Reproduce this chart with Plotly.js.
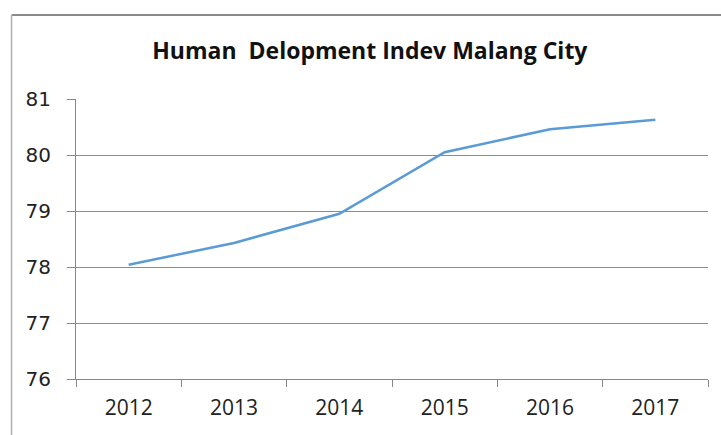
<!DOCTYPE html>
<html>
<head>
<meta charset="utf-8">
<script src="https://cdn.plot.ly/plotly-3.0.1.min.js"></script>
<style>html,body{margin:0;padding:0;background:#fff;}#chart{width:721px;height:435px;}</style>
</head>
<body>
<div id="chart"></div>
<script>
const years = ["2012", "2013", "2014", "2015", "2016", "2017"];
const hdiValues = [78.04, 78.43, 78.95, 80.05, 80.46, 80.63];
const yTicks = [76, 77, 78, 79, 80, 81];

const trace = {
  x: years,
  y: hdiValues,
  type: "scatter",
  mode: "lines",
  line: {color: "#5B9BD5", width: 2.5},
  hoverinfo: "x+y"
};

const layout = {
  width: 721,
  height: 435,
  margin: {l: 76, r: 13, t: 99, b: 56},
  paper_bgcolor: "#ffffff",
  plot_bgcolor: "#ffffff",
  showlegend: false,
  title: {
    text: "<b>Human  Delopment Indev Malang City</b>",
    font: {family: "Open Sans, sans-serif", size: 23, color: "#111111"},
    x: 0.513, xanchor: "center",
    y: 0.882, yanchor: "middle"
  },
  xaxis: {
    type: "category",
    range: [-0.5, 5.5],
    tickson: "boundaries",
    ticks: "outside",
    ticklen: 7,
    tickcolor: "#888888",
    tickwidth: 1,
    ticklabelstandoff: 10,
    showline: true,
    linecolor: "#888888",
    linewidth: 1,
    showgrid: false,
    zeroline: false,
    tickfont: {family: "Open Sans, sans-serif", size: 21, color: "#222222"},
    fixedrange: true
  },
  yaxis: {
    range: [76, 81],
    tickvals: yTicks,
    ticks: "outside",
    ticklen: 8,
    tickcolor: "#888888",
    tickwidth: 1,
    ticklabelstandoff: 12,
    showline: true,
    linecolor: "#888888",
    linewidth: 1,
    showgrid: true,
    gridcolor: "#8c8c8c",
    gridwidth: 1,
    zeroline: false,
    tickfont: {family: "DejaVu Sans, Verdana, sans-serif", size: 20, color: "#222222"},
    fixedrange: true
  },
  shapes: [
    {type: "line", xref: "paper", yref: "paper", x0: -0.102, x1: 1.03, y0: 1.3, y1: 1.3, line: {color: "#8a8a8a", width: 2}},
    {type: "line", xref: "paper", yref: "paper", x0: -0.102, x1: -0.102, y0: 1.3, y1: -0.25, line: {color: "#b0b0b0", width: 1.5}}
  ]
};

Plotly.newPlot("chart", [trace], layout, {displayModeBar: false, staticPlot: true});
</script>
</body>
</html>
